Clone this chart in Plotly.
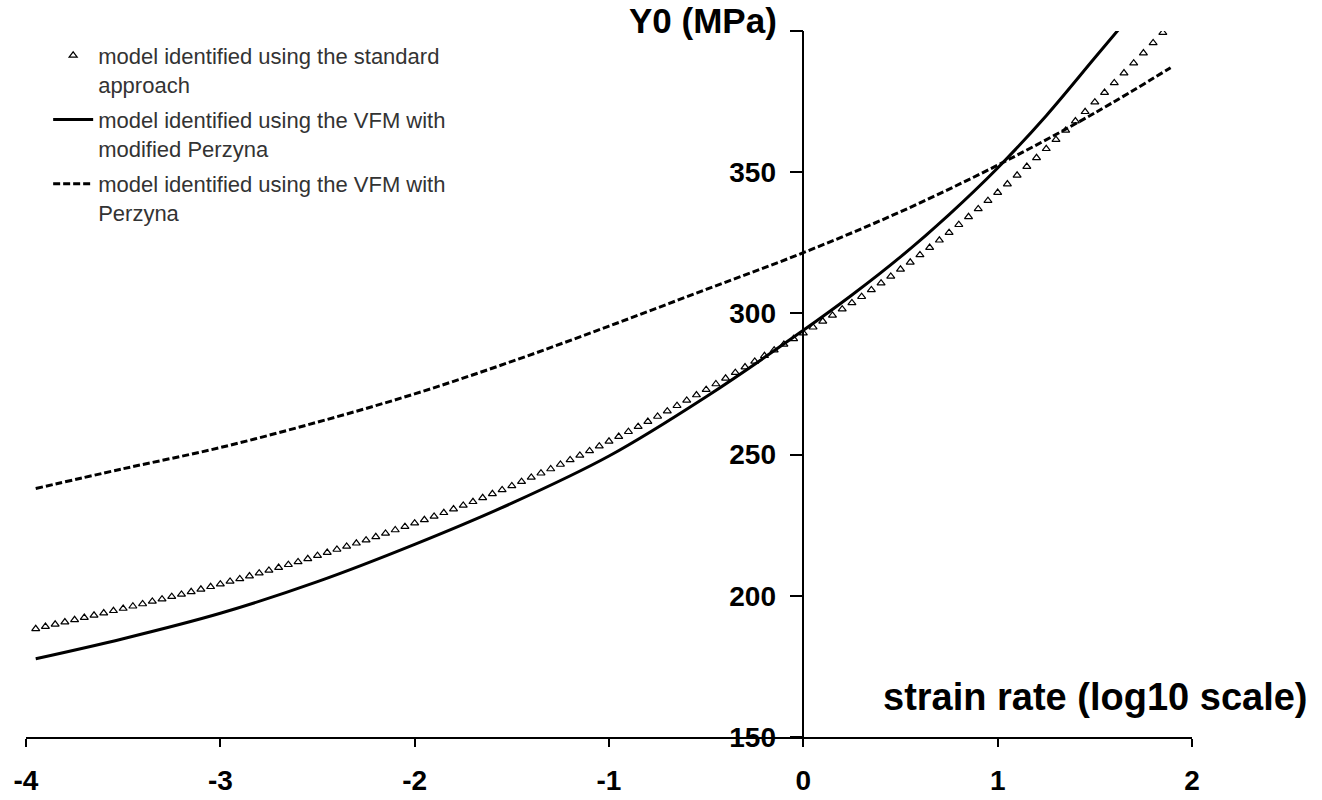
import plotly.graph_objects as go

# ---- data ----
# standard approach (triangles), x = log10 strain rate
x_std = [
    -3.95, -3.90, -3.85, -3.80, -3.75, -3.70, -3.65, -3.60, -3.55, -3.50,
    -3.45, -3.40, -3.35, -3.30, -3.25, -3.20, -3.15, -3.10, -3.05, -3.00,
    -2.95, -2.90, -2.85, -2.80, -2.75, -2.70, -2.65, -2.60, -2.55, -2.50,
    -2.45, -2.40, -2.35, -2.30, -2.25, -2.20, -2.15, -2.10, -2.05, -2.00,
    -1.95, -1.90, -1.85, -1.80, -1.75, -1.70, -1.65, -1.60, -1.55, -1.50,
    -1.45, -1.40, -1.35, -1.30, -1.25, -1.20, -1.15, -1.10, -1.05, -1.00,
    -0.95, -0.90, -0.85, -0.80, -0.75, -0.70, -0.65, -0.60, -0.55, -0.50,
    -0.45, -0.40, -0.35, -0.30, -0.25, -0.20, -0.15, -0.10, -0.05, 0.00,
    0.05, 0.10, 0.15, 0.20, 0.25, 0.30, 0.35, 0.40, 0.45, 0.50,
    0.55, 0.60, 0.65, 0.70, 0.75, 0.80, 0.85, 0.90, 0.95, 1.00,
    1.05, 1.10, 1.15, 1.20, 1.25, 1.30, 1.35, 1.40, 1.45, 1.50,
    1.55, 1.60, 1.65, 1.70, 1.75, 1.80, 1.85,
]
y_std = [
    188.3, 189.1, 189.9, 190.7, 191.5, 192.3, 193.1, 193.9, 194.7, 195.5,
    196.3, 197.1, 198.0, 198.8, 199.7, 200.5, 201.4, 202.3, 203.2, 204.1,
    205.1, 206.0, 207.0, 208.0, 209.0, 210.0, 211.0, 212.0, 213.1, 214.2,
    215.3, 216.4, 217.5, 218.6, 219.7, 220.9, 222.1, 223.3, 224.5, 225.7,
    226.9, 228.1, 229.4, 230.7, 232.0, 233.3, 234.7, 236.1, 237.5, 238.9,
    240.4, 241.9, 243.4, 244.9, 246.5, 248.1, 249.7, 251.3, 253.0, 254.7,
    256.4, 258.1, 259.9, 261.7, 263.5, 265.4, 267.3, 269.2, 271.1, 273.0,
    275.0, 277.0, 279.0, 281.0, 283.0, 285.0, 287.0, 289.0, 291.0, 293.0,
    295.1, 297.2, 299.3, 301.5, 303.7, 305.9, 308.3, 310.7, 313.1, 315.6,
    318.1, 320.7, 323.3, 325.9, 328.6, 331.4, 334.2, 337.0, 339.9, 342.8,
    345.8, 348.9, 352.0, 355.1, 358.3, 361.5, 364.8, 368.1, 371.4, 374.8,
    378.2, 381.6, 385.1, 388.6, 392.2, 395.8, 399.4,
]

# VFM with modified Perzyna (solid)
x_mod = [-3.95, -3.5, -3.0, -2.5, -2.0, -1.5, -1.0, -0.5, 0.0, 0.25, 0.5, 0.75, 1.0, 1.25, 1.5, 1.65]
y_mod = [177.7, 184.8, 193.8, 205.0, 218.2, 232.8, 249.5, 270.5, 294.0, 306.5, 320.0, 335.0, 351.5, 370.0, 390.5, 402.8]

# VFM with Perzyna (dashed)
x_per = [-3.95, -3.5, -3.0, -2.5, -2.0, -1.5, -1.0, -0.5, 0.0, 0.5, 1.0, 1.5, 1.89]
y_per = [238.0, 245.0, 252.5, 261.5, 271.5, 283.0, 295.5, 308.5, 321.5, 336.0, 352.5, 371.0, 387.0]

x_ticks = [-4, -3, -2, -1, 0, 1, 2]
x_ticktext = ["-4", "-3", "-2", "-1", "0", "1", "2"]
y_ticks = [150, 200, 250, 300, 350, 400]
y_ticktext = ["150", "200", "250", "300", "350", ""]

names = [
    "model identified using the standard<br>approach",
    "model identified using the VFM with<br>modified Perzyna",
    "model identified using the VFM with<br>Perzyna",
]

FONT = "Liberation Sans, Arial, sans-serif"

fig = go.Figure()
fig.add_trace(go.Scatter(
    x=x_std, y=y_std, mode="markers", name=names[0], legendgroup="a",
    marker=dict(symbol="triangle-up-open", size=7, color="black", line=dict(width=1.2, color="black")),
))
fig.add_trace(go.Scatter(
    x=x_mod, y=y_mod, mode="lines", name=names[1], legendgroup="b",
    line=dict(color="black", width=3, shape="spline"),
))
fig.add_trace(go.Scatter(
    x=x_per, y=y_per, mode="lines", name=names[2], legendgroup="c",
    line=dict(color="black", width=3, dash="7px,3px", shape="spline"),
))

fig.update_layout(
    width=1322, height=800,
    margin=dict(l=26, r=130, t=31, b=63, autoexpand=False),
    paper_bgcolor="white", plot_bgcolor="white",
    font=dict(family=FONT, color="black"),
    showlegend=True,
    legend=dict(
        x=0.019, y=0.995, xanchor="left", yanchor="top",
        font=dict(family=FONT, size=22, color="#333333"),
        bgcolor="rgba(0,0,0,0)", valign="top", tracegroupgap=4,
        itemwidth=40,
    ),
    xaxis=dict(
        range=[-4, 2], tickvals=x_ticks, ticktext=x_ticktext,
        ticks="outside", ticklen=8, tickwidth=1.5, tickcolor="black",
        showline=True, linecolor="black", linewidth=1.5,
        showgrid=False, zeroline=False, automargin=False,
        tickfont=dict(family=FONT, size=28, color="black", weight="bold"),
        ticklabelstandoff=10,
    ),
    yaxis=dict(
        range=[150, 400], tickvals=y_ticks, ticktext=y_ticktext,
        anchor="free", position=4 / 6, side="left",
        ticks="outside", ticklen=13, tickwidth=1.5, tickcolor="black",
        showline=True, linecolor="black", linewidth=1.5,
        showgrid=False, zeroline=False, automargin=False,
        tickfont=dict(family=FONT, size=28, color="black", weight="bold"),
        ticklabelstandoff=8,
    ),
    annotations=[
        dict(text="Y0 (MPa)", x=0, xref="x", y=400, yref="y",
             xanchor="right", yanchor="middle", xshift=-24, yshift=11,
             showarrow=False, font=dict(family=FONT, size=35, color="black", weight="bold")),
        dict(text="strain rate (log10 scale)", x=1.101, xref="paper", y=0.057, yref="paper",
             xanchor="right", yanchor="middle",
             showarrow=False, font=dict(family=FONT, size=38, color="black", weight="bold")),
    ],
)

fig.write_html("out.html")
